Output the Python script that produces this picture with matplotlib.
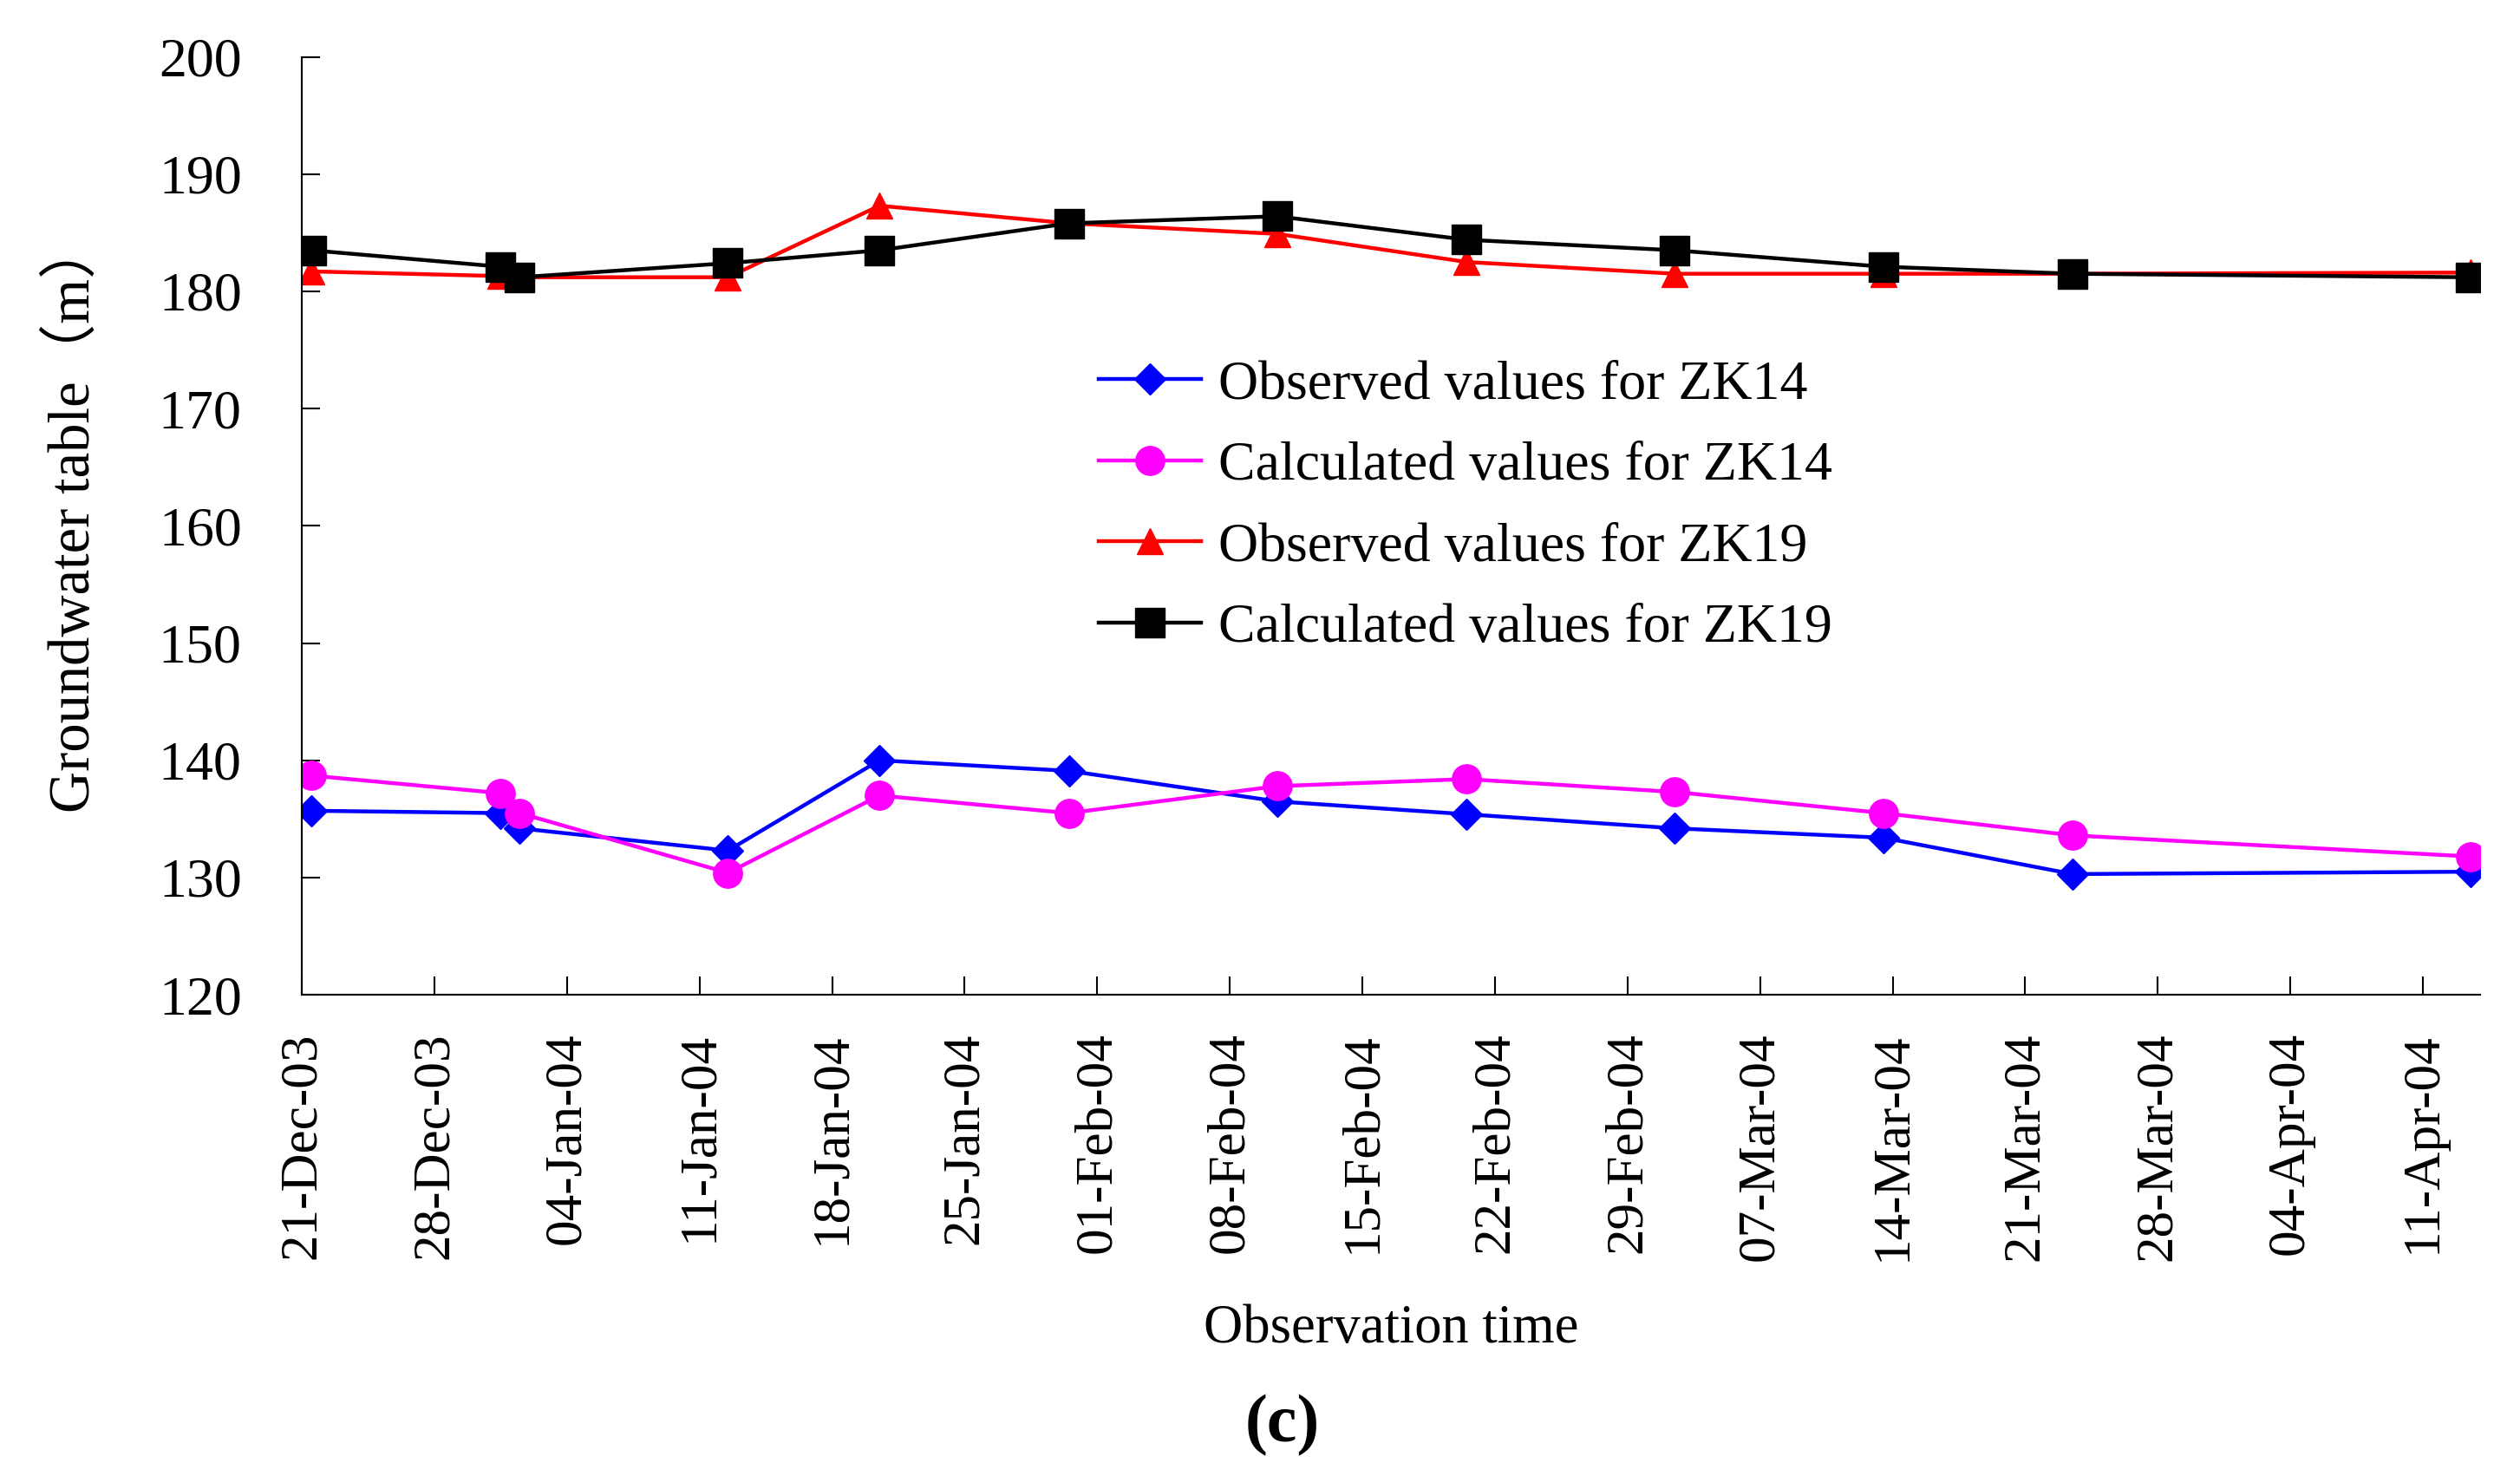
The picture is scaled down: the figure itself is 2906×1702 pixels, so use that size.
import pandas as pd
import matplotlib
matplotlib.use("Agg")
from matplotlib import pyplot as plt
import matplotlib.dates as mdates

plt.rcParams['font.family'] = ['Liberation Serif', 'Noto Sans CJK SC']

dates = pd.to_datetime(["2003-12-21", "2003-12-31", "2004-01-01", "2004-01-12", "2004-01-20",
                        "2004-01-30", "2004-02-10", "2004-02-20", "2004-03-02", "2004-03-13",
                        "2004-03-23", "2004-04-13"])
obs_zk14 = [135.7, 135.5, 134.2, 132.3, 140.0, 139.1, 136.5, 135.4, 134.2, 133.4, 130.3, 130.5]
calc_zk14 = [138.7, 137.2, 135.5, 130.4, 137.0, 135.5, 137.8, 138.4, 137.3, 135.5, 133.6, 131.8]
obs_zk19 = [181.7, 181.3, 181.2, 181.2, 187.3, 185.8, 184.9, 182.5, 181.5, 181.5, 181.5, 181.6]
calc_zk19 = [183.5, 182.1, 181.2, 182.4, 183.5, 185.8, 186.4, 184.4, 183.5, 182.1, 181.5, 181.2]

tick_dates = pd.date_range("2003-12-21", "2004-04-11", freq="7D")
y_ticks = list(range(120, 201, 10))

# Excel puts the points in the middle of each day
x = dates + pd.Timedelta(hours=12)

fig = plt.figure(figsize=(29.06, 17.02), dpi=100)
ax = fig.add_axes([0.1198, 0.326, 0.8642, 0.6355])

lw = 3.2
ax.plot(x, obs_zk14, color='blue', marker='D', markersize=18, linewidth=lw, label='Observed values for ZK14')
ax.plot(x, calc_zk14, color='magenta', marker='o', markersize=24, linewidth=lw, label='Calculated values for ZK14')
ax.plot(x, obs_zk19, color='red', marker='^', markersize=21, linewidth=lw, label='Observed values for ZK19')
ax.plot(x, calc_zk19, color='black', marker='s', markersize=25, linewidth=lw, label='Calculated values for ZK19')

ax.set_xlim(pd.Timestamp("2003-12-21"), pd.Timestamp("2004-04-14"))
ax.set_ylim(120, 200)
ax.set_yticks(y_ticks)
ax.set_xticks(tick_dates)
ax.xaxis.set_major_formatter(mdates.DateFormatter('%d-%b-%y'))
plt.setp(ax.get_xticklabels(), rotation=90)

ax.spines['top'].set_visible(False)
ax.spines['right'].set_visible(False)
for s in ['left', 'bottom']:
    ax.spines[s].set_linewidth(1.5)
ax.tick_params(axis='both', direction='in', length=15, width=1.5)
ax.tick_params(axis='y', labelsize=46, pad=50)
ax.tick_params(axis='x', labelsize=44, pad=31)

ax.set_ylabel('Groundwater table（m）', fontsize=48)
ax.yaxis.set_label_coords(-0.092, 0.51)
ax.set_xlabel('Observation time', fontsize=45)
ax.xaxis.set_label_coords(0.5, -0.3295)

ax.legend(loc='center left', bbox_to_anchor=(0.366, 0.52), frameon=False, fontsize=46,
          borderpad=0, borderaxespad=0, handlelength=1.85, handletextpad=0.3, labelspacing=0.545)

fig.text(0.509, 0.034, '(c)', fontsize=56, fontweight='bold', ha='center', va='center')

fig.savefig('out.png', dpi=100)
